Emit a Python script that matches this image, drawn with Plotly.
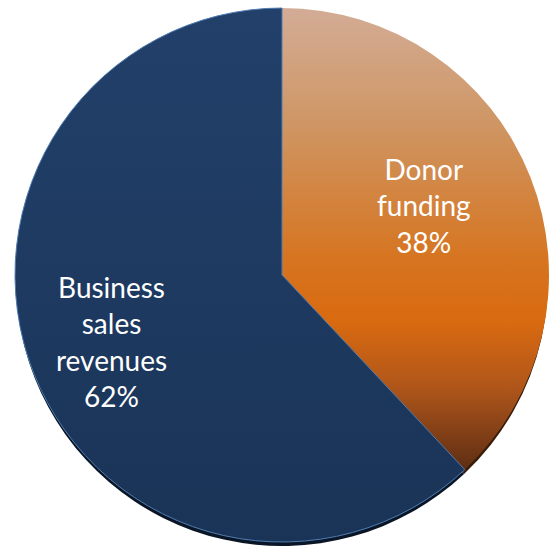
import plotly.graph_objects as go

labels = ["Donor<br>funding", "Business<br>sales<br>revenues"]
values = [38, 62]
colors = ["#D27A30", "#1F3A60"]
shadow_colors = ["#3A1C0A", "#0A1626"]
# label block centres (pixels)
label_pos_px = [(424, 205), (111, 341)]

W, H = 553, 546
cx, cy, r = 282, 275, 267

dom_x = [(cx - r) / W, (cx + r) / W]
dom_y = [1 - (cy + r) / H, 1 - (cy - r) / H]
shift = 6
dom_y_sh = [max(0.0, dom_y[0] - shift / H), dom_y[1] - shift / H]

fig = go.Figure()
fig.add_trace(go.Pie(
    labels=labels, values=values, sort=False, direction="clockwise", rotation=0,
    marker=dict(colors=shadow_colors, line=dict(width=0)),
    textinfo="none", hoverinfo="skip", showlegend=False,
    domain=dict(x=dom_x, y=dom_y_sh),
))
fig.add_trace(go.Pie(
    labels=labels, values=values, sort=False, direction="clockwise", rotation=0,
    marker=dict(colors=colors, line=dict(color=["rgba(0,0,0,0)", "#4F7DB3"], width=1)),
    textinfo="none", showlegend=False,
    domain=dict(x=dom_x, y=dom_y),
))

total = sum(values)
for lab, v, (px, py) in zip(labels, values, label_pos_px):
    fig.add_annotation(
        x=px / W, y=1 - py / H, xref="paper", yref="paper",
        text=f"{lab}<br>{round(100 * v / total)}%",
        showarrow=False, xanchor="center", yanchor="middle", align="center",
        font=dict(family="Lato, Open Sans, sans-serif", size=28, color="white"),
    )

fig.update_layout(
    width=W, height=H, margin=dict(l=0, r=0, t=0, b=0),
    paper_bgcolor="white", plot_bgcolor="white", showlegend=False,
)

post = """
document.body.style.margin = '0';
document.body.style.padding = '0';
var gd = document.getElementById('{plot_id}');
function applyGrad(){
  var svg = gd.querySelector('svg.main-svg');
  if(!svg) return;
  var ns = 'http://www.w3.org/2000/svg';
  if(!svg.querySelector('#gradDonor')) {
    var defs = svg.querySelector('defs');
    if(!defs){ defs = document.createElementNS(ns,'defs'); svg.insertBefore(defs, svg.firstChild); }
    var mk = function(id, stops){
      var g = document.createElementNS(ns,'linearGradient');
      g.setAttribute('id', id); g.setAttribute('x1','0'); g.setAttribute('y1','0');
      g.setAttribute('x2','0'); g.setAttribute('y2','1');
      stops.forEach(function(s){
        var st = document.createElementNS(ns,'stop');
        st.setAttribute('offset', s[0]); st.setAttribute('stop-color', s[1]);
        g.appendChild(st);
      });
      defs.appendChild(g);
    };
    mk('gradDonor', [['0','#D3AC96'],['0.25','#CF9664'],['0.55','#D6741F'],['0.68','#D96A10'],['0.82','#B0561A'],['1','#5E2E14']]);
    mk('gradBiz', [['0','#22406A'],['1','#1A3457']]);
  }
  var traces = svg.querySelectorAll('.pielayer .trace');
  var t = traces[traces.length-1];
  var paths = t.querySelectorAll('.slice path.surface');
  if(paths.length>=2){
    paths[0].style.fill = 'url(#gradDonor)';
    paths[1].style.fill = 'url(#gradBiz)';
  }
}
applyGrad();
gd.on('plotly_afterplot', applyGrad);
"""

fig.write_html("out.html", post_script=post, config={"displayModeBar": False})
